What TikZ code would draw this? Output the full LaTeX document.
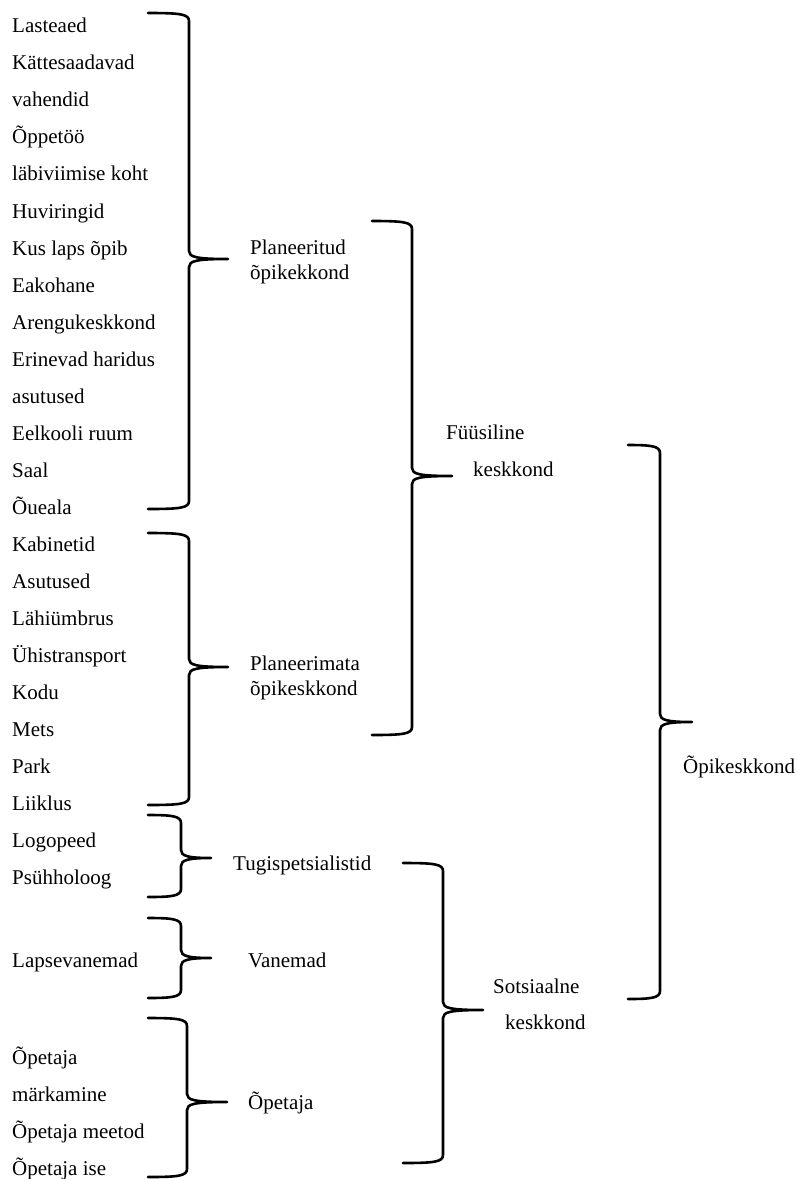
\documentclass[tikz,border=0pt]{standalone}
\usepackage{fontspec}
\setmainfont{Liberation Serif}
\tikzset{
  bracestyle/.style={line width=2.6pt, line cap=round, line join=round},
  item/.style={anchor=base west, inner sep=0pt, font=\fontsize{21}{25}\selectfont},
}
\newcommand\wbrace[6]{%
  \draw[bracestyle] (#1,#4) .. controls (#2-9,#4) and (#2,#4+1) .. (#2,#4+8)
     -- (#2,#5-8) .. controls (#2,#5-2) and (#2+7,#5) .. (#3,#5)
     .. controls (#2+7,#5) and (#2,#5+2) .. (#2,#5+8)
     -- (#2,#6-8) .. controls (#2,#6-1) and (#2-9,#6) .. (#1,#6);%
}
\begin{document}
\begin{tikzpicture}[x=1pt,y=-1pt]
\useasboundingbox (0,0) rectangle (797,1179);
% left column
\node[item] (a1) at (12,32) {Lasteaed};
\node[item] (a2) at (12,69) {Kättesaadavad};
\node[item] (a3) at (12,106) {vahendid};
\node[item] (a4) at (12,143) {Õppetöö};
\node[item] (a5) at (12,180) {läbiviimise koht};
\node[item] (a6) at (12,218) {Huviringid};
\node[item] (a7) at (12,255) {Kus laps õpib};
\node[item] (a8) at (12,292) {Eakohane};
\node[item] (a9) at (12,329) {Arengukeskkond};
\node[item] (a10) at (12,366) {Erinevad haridus};
\node[item] (a11) at (12,403) {asutused};
\node[item] (a12) at (12,440) {Eelkooli ruum};
\node[item] (a13) at (12,477) {Saal};
\node[item] (a14) at (12,514) {Õueala};
\node[item] (b1) at (12,551) {Kabinetid};
\node[item] (b2) at (12,588) {Asutused};
\node[item] (b3) at (12,625) {Lähiümbrus};
\node[item] (b4) at (12,662) {Ühistransport};
\node[item] (b5) at (12,699) {Kodu};
\node[item] (b6) at (12,736) {Mets};
\node[item] (b7) at (12,773) {Park};
\node[item] (b8) at (12,810) {Liiklus};
\node[item] (c1) at (12,847) {Logopeed};
\node[item] (c2) at (12,884) {Psühholoog};
\node[item] (d1) at (12,967) {Lapsevanemad};
\node[item] (e1) at (12,1064) {Õpetaja};
\node[item] (e2) at (12,1101) {märkamine};
\node[item] (e3) at (12,1138) {Õpetaja meetod};
\node[item] (e4) at (12,1175) {Õpetaja ise};
% second level
\node[item] (p1) at (250,254) {Planeeritud};
\node[item] (p2) at (250,279) {õpikekkond};
\node[item] (q1) at (250,670) {Planeerimata};
\node[item] (q2) at (250,695) {õpikeskkond};
\node[item] (t1) at (233,870) {Tugispetsialistid};
\node[item] (v1) at (248,967) {Vanemad};
\node[item] (o1) at (248,1109) {Õpetaja};
% third level
\node[item] (f1) at (446,439) {Füüsiline};
\node[item] (f2) at (473,476) {keskkond};
\node[item] (s1) at (493,993) {Sotsiaalne};
\node[item] (s2) at (505,1029) {keskkond};
% top
\node[item] (k1) at (683,773) {Õpikeskkond};
% braces
\wbrace{148}{189}{228}{13}{259}{509}
\wbrace{148}{189}{228}{533}{667}{805}
\wbrace{148}{181}{211}{815}{858}{897}
\wbrace{148}{181}{211}{918}{958}{998}
\wbrace{148}{187}{227}{1018}{1102}{1177}
\wbrace{372}{412}{452}{221}{476}{735}
\wbrace{403}{443}{483}{863}{1010}{1163}
\wbrace{628}{660}{692}{445}{722}{999}
\end{tikzpicture}
\end{document}
